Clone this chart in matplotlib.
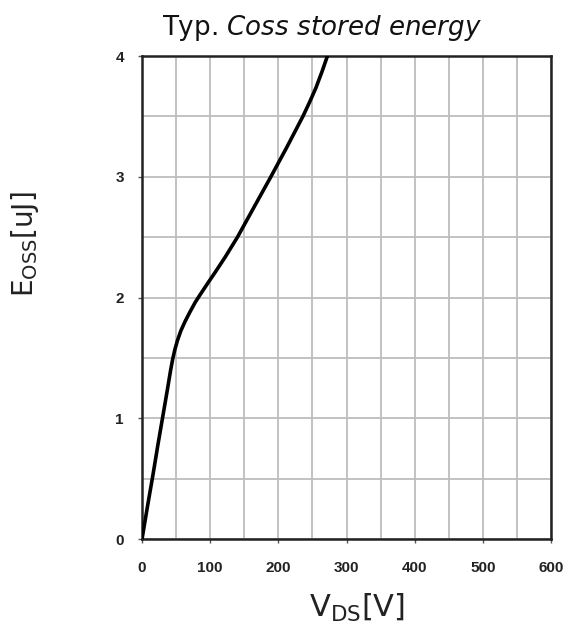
import matplotlib
matplotlib.use("Agg")
import matplotlib.pyplot as plt
from matplotlib.ticker import MultipleLocator

# Coss stored energy curve
vds = [0, 8, 16, 23, 30, 37, 42, 45, 48, 52, 57, 63, 70, 78, 86, 96, 108,
       122, 140, 163, 189, 212, 224, 236, 246, 255, 264, 272]
eoss = [0, 0.27, 0.53, 0.77, 1.0, 1.23, 1.40, 1.49, 1.565, 1.645, 1.725,
        1.80, 1.877, 1.96, 2.03, 2.115, 2.215, 2.335, 2.5, 2.735, 3.0, 3.24,
        3.37, 3.5, 3.62, 3.735, 3.87, 4.0]

x_ticks = [0, 100, 200, 300, 400, 500, 600]
y_ticks = [0, 1, 2, 3, 4]

plt.rcParams["mathtext.fontset"] = "custom"
plt.rcParams["mathtext.rm"] = "Open Sans"
plt.rcParams["mathtext.it"] = "DejaVu Sans:italic"

fig = plt.figure(figsize=(5.72, 6.28), dpi=100)
ax = fig.add_axes([0.2483, 0.1417, 0.7150, 0.7691])

ax.plot(vds, eoss, color="black", linewidth=2.6, solid_capstyle="round",
        solid_joinstyle="round", zorder=3)

ax.set_xlim(0, 600)
ax.set_ylim(0, 4)
ax.set_xticks(x_ticks)
ax.set_yticks(y_ticks)
ax.xaxis.set_minor_locator(MultipleLocator(50))
ax.yaxis.set_minor_locator(MultipleLocator(0.5))
ax.grid(True, which="both", color="#bdbdbd", linewidth=1.3)
ax.set_axisbelow(True)

for sp in ax.spines.values():
    sp.set_color("#222222")
    sp.set_linewidth(1.8)

ax.tick_params(axis="both", which="major", length=3, width=1, color="#555555",
               labelsize=11, labelcolor="#222222")
ax.tick_params(axis="x", which="major", pad=13)
ax.tick_params(axis="y", which="major", pad=10)
ax.tick_params(which="minor", length=0)
for lab in ax.get_xticklabels() + ax.get_yticklabels():
    lab.set_fontfamily("Liberation Sans")
    lab.set_fontweight("bold")

fig.text(0.563, 0.955, r"Typ. $\mathit{Coss\ stored\ energy}$",
         ha="center", va="center", fontsize=18.8, family="DejaVu Sans",
         color="#111111")
fig.text(0.624, 0.032, r"$\mathregular{V_{DS}[V]}$", ha="center",
         va="center", fontsize=22, color="#222222")
fig.text(0.044, 0.611, r"$\mathregular{E_{OSS}[uJ]}$", ha="center",
         va="center", fontsize=20, rotation=90, color="#222222")

fig.savefig("out.png", dpi=100)
